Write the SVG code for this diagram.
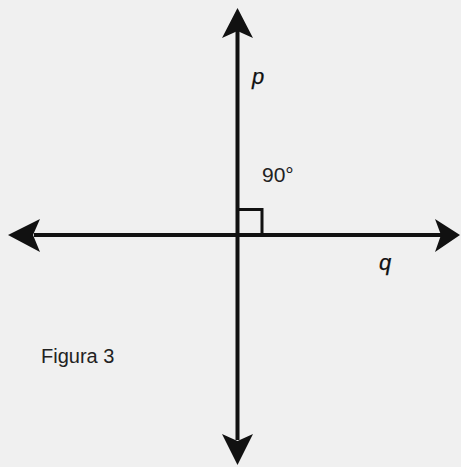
<svg xmlns="http://www.w3.org/2000/svg" width="461" height="467" viewBox="0 0 461 467">
<style>
.ln{stroke:#111;stroke-width:4;fill:none}
.ah{fill:#111;stroke:none}
.sq{stroke:#111;stroke-width:3;fill:none}
.lbl{font-family:"Liberation Sans",Arial,sans-serif;fill:#222}
.var{font-family:"Liberation Sans",Arial,sans-serif;font-style:italic;fill:#111;stroke:#111;stroke-width:0.25}
</style>
<rect width="461" height="467" fill="#f0f0f0"/>
<g id="connectors">
<line class="ln" x1="237.5" y1="30" x2="237.5" y2="440"/>
<line class="ln" x1="34" y1="235" x2="442" y2="235"/>
<polygon class="ah" points="237.5,8 253,38 237.5,31 222,38"/>
<polygon class="ah" points="237.5,465 253,434 237.5,441 222,434"/>
<polygon class="ah" points="8,235 40,219 33,235 40,252"/>
<polygon class="ah" points="460,235 435,219 441,235 435,252"/>
</g>
<g id="right-angle">
<polyline class="sq" points="238,209.5 262,209.5 262,235"/>
<text class="lbl" x="262" y="182" font-size="21">90°</text>
</g>
<g id="line-p">
<text class="var" x="252" y="84" font-size="22">p</text>
</g>
<g id="line-q">
<text class="var" x="379" y="270" font-size="22">q</text>
</g>
<g id="caption">
<text class="lbl" x="41" y="363" font-size="20">Figura 3</text>
</g>
</svg>
